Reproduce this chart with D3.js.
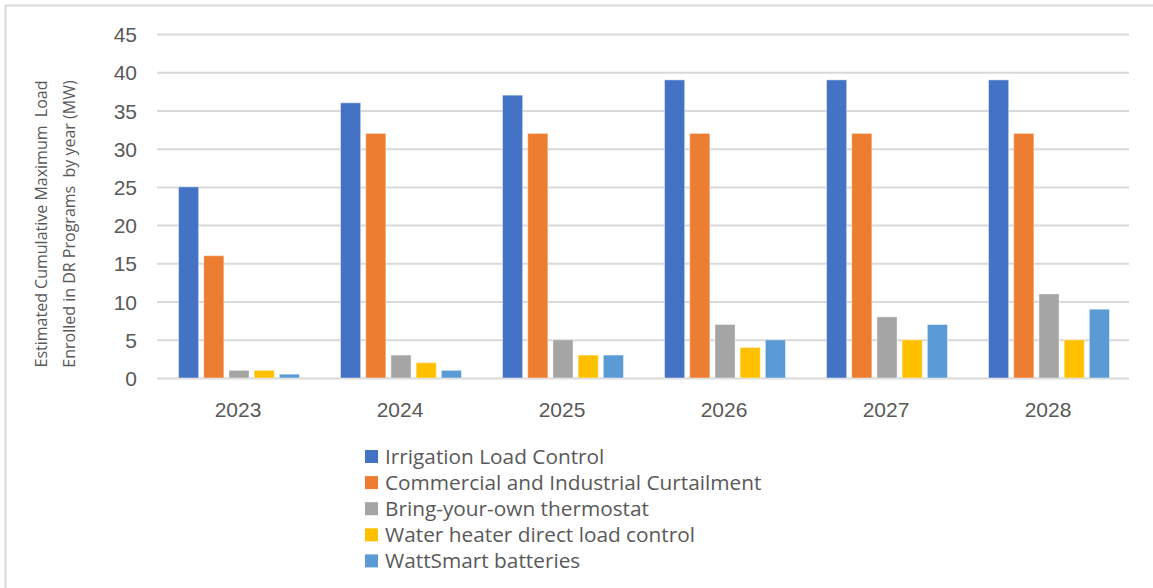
<!DOCTYPE html>
<html>
<head>
<meta charset="utf-8">
<script src="https://cdn.jsdelivr.net/npm/d3@7"></script>
<style>
  html, body { margin: 0; padding: 0; background: #fff; }
  svg { display: block; font-family: "Open Sans", "Noto Sans", sans-serif; }
  .pre { white-space: pre; }
</style>
</head>
<body>
<svg id="chart" width="1153" height="588"></svg>
<script>
// Demand response load enrolled, MW, by program and year
const years = ["2023", "2024", "2025", "2026", "2027", "2028"];
const seriesNames = [
  "Irrigation Load Control",
  "Commercial and Industrial Curtailment",
  "Bring-your-own thermostat",
  "Water heater direct load control",
  "WattSmart batteries"
];
const irrigation = [25, 36, 37, 39, 39, 39];
const commercial = [16, 32, 32, 32, 32, 32];
const thermostat = [1, 3, 5, 7, 8, 11];
const waterHeater = [1, 2, 3, 4, 5, 5];
const batteries = [0.5, 1, 3, 5, 7, 9];
const yTicks = [0, 5, 10, 15, 20, 25, 30, 35, 40, 45];
const colors = ["#4472C4", "#ED7D31", "#A5A5A5", "#FFC000", "#5B9BD5"];

const seriesValues = [irrigation, commercial, thermostat, waterHeater, batteries];
const rows = years.map((yr, i) => ({
  year: yr,
  values: seriesNames.map((s, k) => ({ series: s, value: seriesValues[k][i] }))
}));

const svg = d3.select("#chart");
const textColor = "#595959";

// Outer chart frame
svg.append("rect")
  .attr("x", 5.5).attr("y", 5.5)
  .attr("width", 1160).attr("height", 600)
  .attr("fill", "none").attr("stroke", "#d9d9d9").attr("stroke-width", 2);

const plot = { left: 157, right: 1129, top: 34, bottom: 378 };

const x0 = d3.scaleBand().domain(years).range([plot.left, plot.right]).padding(0);
const x1 = d3.scaleBand().domain(seriesNames)
  .range([21.5, x0.bandwidth() - 19.5]).paddingInner(0.2).paddingOuter(0);
const y = d3.scaleLinear().domain([0, 45]).range([plot.bottom, plot.top]);
const color = d3.scaleOrdinal().domain(seriesNames).range(colors);

// Horizontal gridlines and y tick labels
const yAxis = d3.axisLeft(y).tickValues(yTicks)
  .tickSize(-(plot.right - plot.left)).tickPadding(20).tickFormat(d3.format("d"));
const gy = svg.append("g").attr("transform", `translate(${plot.left},0)`).call(yAxis);
gy.select(".domain").remove();
gy.selectAll(".tick line").attr("stroke", "#d9d9d9").attr("stroke-width", 2);
gy.selectAll(".tick text")
  .attr("fill", textColor).style("font-size", "21px").attr("dy", "0.36em");

// Category axis labels
const xAxis = d3.axisBottom(x0).tickSize(0).tickPadding(24);
const gx = svg.append("g").attr("transform", `translate(0,${plot.bottom})`).call(xAxis);
gx.select(".domain").remove();
gx.selectAll(".tick text").attr("fill", textColor).style("font-size", "21px");

// Clustered bars
const groups = svg.append("g").selectAll("g")
  .data(rows).join("g")
  .attr("transform", d => `translate(${x0(d.year)},0)`);
groups.selectAll("rect")
  .data(d => d.values).join("rect")
  .attr("x", d => x1(d.series))
  .attr("y", d => y(d.value))
  .attr("width", x1.bandwidth())
  .attr("height", d => y(0) - y(d.value))
  .attr("fill", d => color(d.series))
  .attr("stroke", "#ffffff").attr("stroke-opacity", 0.45).attr("stroke-width", 1);

// Y axis title (two lines)
const title = svg.append("text")
  .attr("transform", "translate(0,224) rotate(-90)")
  .attr("text-anchor", "middle")
  .attr("fill", textColor)
  .style("font-size", "16px")
  .attr("class", "pre");
title.append("tspan").attr("x", 0).attr("y", 47).text("Estimated Cumulative Maximum  Load");
title.append("tspan").attr("x", 0).attr("y", 75).text("Enrolled in DR Programs  by year (MW)");

// Legend
const legend = svg.append("g").attr("transform", "translate(365,0)");
const items = legend.selectAll("g").data(seriesNames).join("g")
  .attr("transform", (d, i) => `translate(0,${456.5 + i * 26.1})`);
items.append("rect")
  .attr("x", 0).attr("y", -6.5).attr("width", 13).attr("height", 13)
  .attr("fill", d => color(d));
items.append("text")
  .attr("x", 20).attr("y", 7.5)
  .attr("fill", textColor).style("font-size", "20.8px")
  .text(d => d);
</script>
</body>
</html>
